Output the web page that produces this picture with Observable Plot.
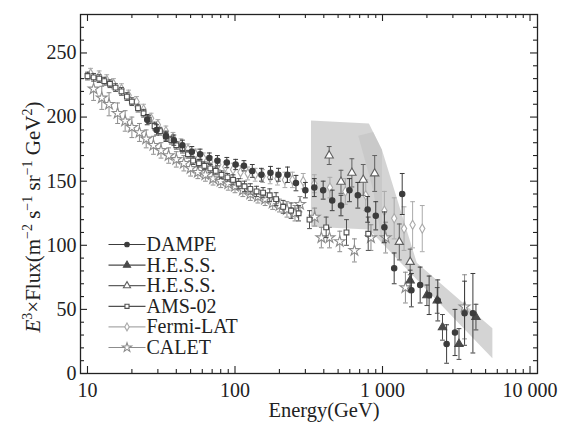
<!DOCTYPE html>
<html><head><meta charset="utf-8">
<script src="https://cdn.jsdelivr.net/npm/d3@7"></script>
<script src="https://cdn.jsdelivr.net/npm/@observablehq/plot@0.6"></script>
<style>body{margin:0;background:#fff}</style>
</head><body><div id="chart"></div>
<script>
// ---------- DATA ----------
const dampeE = [25.4, 29.4, 34, 38.5, 44, 51, 58, 67, 76, 88, 101, 115, 131, 151, 174, 197, 227, 259, 300, 345, 396, 456, 523, 597, 680, 793, 900, 1030, 1200, 1360, 1570, 1800, 2070, 2370, 2720, 3100, 3600, 4100];
const dampeV = [198, 190, 185, 182, 178, 173, 171, 168, 166, 164.5, 163, 162, 158, 155, 156.5, 155, 155, 148.5, 143, 145, 143, 135, 131, 143, 139, 128, 123, 114, 82, 140, 65, 69, 61, 57, 23, 32, 47, 47];
const dampeErr = [4, 4, 4, 4, 4, 4, 4, 4, 4, 4, 4, 4, 5, 5, 5, 5, 6, 6, 6, 7, 7, 8, 8, 9, 10, 10, 11, 12, 12, 16, 13, 14, 15, 16, 15, 18, 25, 31];

const hessE = [1540, 2000, 2350, 2550, 3300, 4300];
const hessV = [72.6, 61, 57, 36, 23, 44];
const hessErr = [8, 8, 10, 10, 12, 10];

const hessLeE = [435, 523, 620, 740, 885, 1300, 1540];
const hessLeV = [170, 149.5, 156.5, 151, 156, 102.6, 87];
const hessLeErr = [7, 9, 11, 12, 14, 14, 10];

const amsE = [10, 11, 12, 13, 14.2, 15.5, 17, 18.5, 20, 22, 24, 26, 28.5, 31, 34, 37, 40, 44, 48, 52, 57, 62, 68, 74, 81, 89, 97, 106, 116, 127, 140, 155, 172, 190, 212, 240, 270, 320, 415, 570, 800];
const amsV = [232, 231, 230, 228, 226, 223, 220, 216, 212, 207, 203, 198, 193, 189, 185, 182, 178, 175, 171, 166, 164, 162, 160, 158, 155, 153, 151, 148, 146, 144, 142, 141, 139, 136, 130, 127, 125, 120, 114, 110, 109];
const amsErr = [3, 3, 3, 3, 3, 3, 3, 3, 3, 3, 3, 3, 3, 3, 3, 3, 3, 3, 3, 3, 3, 3, 3, 3, 3, 3, 4, 4, 4, 4, 4, 4, 5, 5, 5, 6, 6, 7, 8, 10, 13];

const fermiE = [10.5, 12, 13.5, 15, 17, 19, 21.5, 24, 27, 30, 34, 38, 43, 48, 54, 61, 68, 77, 86, 97, 109, 122, 137, 154, 173, 194, 218, 245, 290, 345, 440, 560, 770, 1030, 1200, 1400, 1600, 1860];
const fermiV = [234, 232, 229, 226, 222, 217, 212, 206, 199, 194, 189, 184, 179, 175, 171, 168, 165, 163, 161, 159, 157, 156, 155, 154, 153, 152, 151, 151, 150, 148, 145, 142, 139, 127, 121, 113, 116, 113];
const fermiErr = [4, 4, 4, 4, 4, 4, 4, 4, 4, 4, 4, 4, 4, 4, 4, 4, 4, 4, 4, 5, 5, 5, 5, 5, 5, 5, 6, 6, 6, 7, 8, 10, 12, 15, 16, 17, 18, 18];

const caletE = [11, 12.5, 14, 16, 18, 20, 22.5, 25, 28, 31.5, 35.5, 40, 45, 50, 56, 63, 71, 80, 90, 100, 113, 127, 143, 160, 180, 200, 225, 255, 276, 347, 385, 437, 513, 645, 835, 1050, 1430, 3600];
const caletV = [222, 215, 210, 203, 197, 192, 188, 183, 178, 174, 170, 167, 164, 160, 157, 155, 152, 150, 148, 146, 143, 140, 138, 136, 133, 131, 128, 125, 132, 122, 106, 106, 103, 96, 106, 106, 67, 52];
const caletErr = [9, 9, 9, 8, 8, 8, 7, 7, 7, 6, 6, 6, 6, 6, 5, 5, 5, 5, 5, 5, 5, 5, 5, 5, 5, 5, 6, 6, 6, 7, 8, 8, 8, 9, 10, 12, 12, 25];

// H.E.S.S. systematic bands
const band1E = [330, 815, 1000];
const band1Hi = [197, 194.5, 174];
const band1Lo = [114, 112, 101.3];
const band2E = [690, 870, 1000, 1720, 5600];
const band2Hi = [185, 188, 174, 86, 35];
const band2Lo = [185, 143, 101.3, 73, 11.5];

const yMajor = [0, 50, 100, 150, 200, 250];
const yMinor = [10, 20, 30, 40, 60, 70, 80, 90, 110, 120, 130, 140, 160, 170, 180, 190, 210, 220, 230, 240, 260, 270];
const xMajor = [10, 100, 1000, 10000];
const xMajorLabels = ["10", "100", "1 000", "10 000"];
const xMinor = [20, 30, 40, 50, 60, 70, 80, 90, 200, 300, 400, 500, 600, 700, 800, 900, 2000, 3000, 4000, 5000, 6000, 7000, 8000, 9000];

const legendNames = ["DAMPE", "H.E.S.S.", "H.E.S.S.", "AMS-02", "Fermi-LAT", "CALET"];

// ---------- STYLE ----------
const FONT = "'Liberation Serif', 'Times New Roman', serif";
const W = 567, H = 423, mL = 80, mR = 30, mT = 14, mB = 50;
const pw = W - mL - mR, ph = H - mT - mB;

const cap = {draw(ctx) { ctx.moveTo(-2.4, 0); ctx.lineTo(2.4, 0); }};
const legLine = {draw(ctx) { ctx.moveTo(-18.5, 0); ctx.lineTo(18.5, 0); }};

const series = [
  {name: "CALET", E: caletE, V: caletV, Err: caletErr, symbol: "star", color: "#8c8c8c", fill: "white", r: 3.4, leg: 5},
  {name: "Fermi-LAT", E: fermiE, V: fermiV, Err: fermiErr, symbol: "diamond", color: "#aaaaaa", fill: "white", r: 2.8, leg: 4},
  {name: "AMS-02", E: amsE, V: amsV, Err: amsErr, symbol: "square", color: "#505050", fill: "white", r: 2.7, leg: 3},
  {name: "H.E.S.S. LE", E: hessLeE, V: hessLeV, Err: hessLeErr, symbol: "triangle", color: "#606060", fill: "white", r: 3.1, leg: 2},
  {name: "H.E.S.S.", E: hessE, V: hessV, Err: hessErr, symbol: "triangle", color: "#4a4a4a", fill: "#4a4a4a", r: 3.1, leg: 1},
  {name: "DAMPE", E: dampeE, V: dampeV, Err: dampeErr, symbol: "circle", color: "#3c3c3c", fill: "#3c3c3c", r: 2.7, leg: 0}
];

const marks = [];
const b1 = band1E.map((e, i) => ({E: e, hi: band1Hi[i], lo: band1Lo[i]}));
const b2 = band2E.map((e, i) => ({E: e, hi: band2Hi[i], lo: band2Lo[i]}));
marks.push(Plot.areaY(b1, {x: "E", y1: "lo", y2: "hi", fill: "#c6c6c6", fillOpacity: 0.75}));
marks.push(Plot.areaY(b2, {x: "E", y1: "lo", y2: "hi", fill: "#c6c6c6", fillOpacity: 0.75}));

for (const s of series) {
  const data = s.E.map((e, i) => ({E: e, V: s.V[i], lo: s.V[i] - s.Err[i], hi: s.V[i] + s.Err[i]}));
  marks.push(Plot.ruleX(data, {x: "E", y1: "lo", y2: "hi", stroke: s.color, strokeWidth: 1}));
  marks.push(Plot.dot(data, {x: "E", y: "lo", symbol: cap, stroke: s.color, fill: "none", strokeWidth: 1}));
  marks.push(Plot.dot(data, {x: "E", y: "hi", symbol: cap, stroke: s.color, fill: "none", strokeWidth: 1}));
  marks.push(Plot.dot(data, {x: "E", y: "V", symbol: s.symbol, r: s.r, fill: s.fill, stroke: s.color, strokeWidth: 1.1}));
}

// ticks (inward, all four sides)
const tk = {stroke: "#222", strokeWidth: 1.1};
marks.push(Plot.tickY(yMajor, {y: d => d, insetRight: pw - 7, ...tk}));
marks.push(Plot.tickY(yMajor, {y: d => d, insetLeft: pw - 7, ...tk}));
marks.push(Plot.tickY(yMinor, {y: d => d, insetRight: pw - 4, ...tk}));
marks.push(Plot.tickY(yMinor, {y: d => d, insetLeft: pw - 4, ...tk}));
marks.push(Plot.tickX(xMajor, {x: d => d, insetTop: ph - 7, ...tk}));
marks.push(Plot.tickX(xMajor, {x: d => d, insetBottom: ph - 7, ...tk}));
marks.push(Plot.tickX(xMinor, {x: d => d, insetTop: ph - 4, ...tk}));
marks.push(Plot.tickX(xMinor, {x: d => d, insetBottom: ph - 4, ...tk}));
marks.push(Plot.frame({stroke: "#222", strokeWidth: 1.3}));

marks.push(Plot.axisY(yMajor, {tickSize: 0, tickPadding: 4, fontSize: 20, label: null, fill: "#222"}));
marks.push(Plot.axisX(xMajor, {tickSize: 0, tickPadding: 9, fontSize: 20, label: null, fill: "#222",
  tickFormat: d => xMajorLabels[xMajor.indexOf(d)]}));
marks.push(Plot.text(["Energy(GeV)"], {frameAnchor: "bottom", dx: 15, dy: 29, lineAnchor: "top", fontSize: 20.5, fill: "#222"}));

// legend
for (const s of series) {
  const i = s.leg;
  const dy = 230 + 20.6 * i;
  marks.push(Plot.dot([0], {frameAnchor: "top-left", dx: 46.5, dy, symbol: legLine, stroke: s.color, fill: "none", strokeWidth: 1.2}));
  marks.push(Plot.dot([0], {frameAnchor: "top-left", dx: 46.5, dy, symbol: s.symbol, r: s.r * 0.85, fill: s.fill, stroke: s.color, strokeWidth: 1.1}));
  marks.push(Plot.text([legendNames[i]], {frameAnchor: "top-left", dx: 66, dy, textAnchor: "start", lineAnchor: "middle", fontSize: 20, fill: "#222"}));
}

const plot = Plot.plot({
  width: W, height: H,
  marginLeft: mL, marginRight: mR, marginTop: mT, marginBottom: mB,
  style: {fontFamily: FONT, fontSize: "20px", background: "white", color: "#222"},
  x: {type: "log", domain: [8.966, 11240]},
  y: {domain: [0, 280]},
  marks
});

// y-axis title with superscripts
const t = d3.select(plot).append("text")
  .attr("transform", "translate(40,217) rotate(-90)")
  .attr("text-anchor", "middle")
  .attr("fill", "#222")
  .style("font-family", FONT).style("font-size", "21px");
const parts = [["E", 0, true], ["3", 1], ["×Flux(m", 0], ["−2", 1], [" s", 0], ["−1", 1], [" sr", 0], ["−1", 1], [" GeV", 0], ["2", 1], [")", 0]];
let prevSup = false;
for (const [txt, sup, ital] of parts) {
  const ts = t.append("tspan").text(txt);
  if (ital) ts.style("font-style", "italic");
  if (sup) { ts.style("font-size", "14px"); if (!prevSup) ts.attr("dy", -8); }
  else if (prevSup) ts.attr("dy", 8);
  prevSup = !!sup;
}

document.getElementById("chart").appendChild(plot);
</script>
</body></html>
